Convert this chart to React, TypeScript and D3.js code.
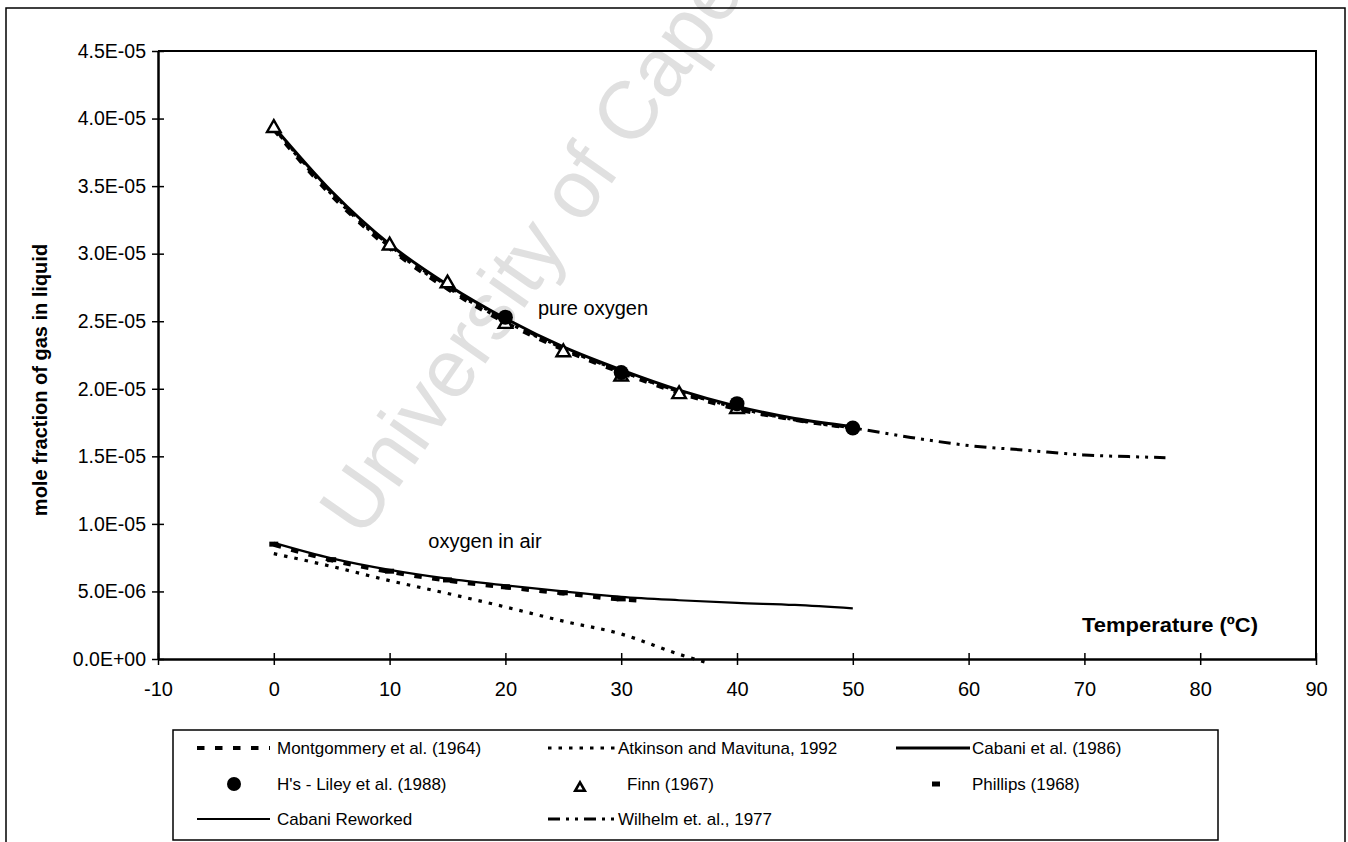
import * as d3 from 'd3'
import { useEffect, useRef } from 'react'

// temperature (ºC) and mole fraction of O2 in water
const pureTemps = [0, 5, 10, 15, 20, 25, 30, 35, 40, 45, 50]
const cabaniPure = [3.94e-5, 3.46e-5, 3.07e-5, 2.77e-5, 2.52e-5, 2.31e-5, 2.14e-5, 1.99e-5, 1.87e-5, 1.78e-5, 1.72e-5]
const montPure = [3.92e-5, 3.43e-5, 3.04e-5, 2.74e-5, 2.49e-5, 2.29e-5, 2.12e-5, 1.97e-5, 1.85e-5, 1.77e-5, 1.71e-5]
const atkinsonPure = [3.93e-5, 3.44e-5, 3.05e-5, 2.75e-5, 2.5e-5, 2.3e-5, 2.13e-5, 1.98e-5, 1.86e-5, 1.77e-5, 1.71e-5]

const wilhelmTemps = [0, 5, 10, 15, 20, 25, 30, 35, 40, 45, 50, 55, 60, 65, 70, 75, 77]
const wilhelmPure = [3.93e-5, 3.45e-5, 3.06e-5, 2.76e-5, 2.51e-5, 2.3e-5, 2.13e-5, 1.98e-5, 1.86e-5, 1.77e-5, 1.71e-5, 1.64e-5, 1.58e-5, 1.545e-5, 1.51e-5, 1.495e-5, 1.49e-5]

const finnTemps = [0, 10, 15, 20, 25, 30, 35, 40]
const finnVals = [3.93e-5, 3.06e-5, 2.78e-5, 2.48e-5, 2.27e-5, 2.09e-5, 1.96e-5, 1.85e-5]

const lileyTemps = [20, 30, 40, 50]
const lileyVals = [2.53e-5, 2.12e-5, 1.89e-5, 1.71e-5]

const airTemps = [0, 5, 10, 15, 20, 25, 30, 35, 40, 45, 50]
const cabaniAir = [8.6e-6, 7.45e-6, 6.6e-6, 5.95e-6, 5.45e-6, 5.0e-6, 4.6e-6, 4.35e-6, 4.15e-6, 4.0e-6, 3.75e-6]

const montAirTemps = [0, 5, 10, 15, 20, 25, 30, 32]
const montAir = [8.45e-6, 7.3e-6, 6.45e-6, 5.8e-6, 5.3e-6, 4.85e-6, 4.4e-6, 4.3e-6]

const phillipsTemps = [0, 5, 10, 15, 20, 25, 30]
const phillipsVals = [8.5e-6, 7.35e-6, 6.5e-6, 5.85e-6, 5.35e-6, 4.9e-6, 4.45e-6]

const atkinsonAirTemps = [0, 5, 10, 15, 20, 25, 30, 35, 37.5]
const atkinsonAir = [7.8e-6, 6.85e-6, 5.8e-6, 4.85e-6, 3.85e-6, 2.8e-6, 1.85e-6, 0.35e-6, -0.3e-6]

const xTicks = [-10, 0, 10, 20, 30, 40, 50, 60, 70, 80, 90]
const yTicks = [0, 5e-6, 1e-5, 1.5e-5, 2e-5, 2.5e-5, 3e-5, 3.5e-5, 4e-5, 4.5e-5]

const legendLabels = [
    'Montgommery et al. (1964)', 'Atkinson and Mavituna, 1992', 'Cabani et al. (1986)',
    "H's - Liley et al. (1988)", 'Finn (1967)', 'Phillips (1968)',
    'Cabani Reworked', 'Wilhelm et. al., 1977'
]

const FONT = '"Liberation Sans", Arial, sans-serif'

function sci(v: number) {
    const [m, e] = v.toExponential(1).split('e')
    const n = Math.abs(parseInt(e))
    return m + 'E' + (e.startsWith('-') ? '-' : '+') + (n < 10 ? '0' + n : '' + n)
}

export default function App() {
    const svgRef = useRef<SVGSVGElement>(null)

    useEffect(() => {
        makeChart(svgRef)
    }, [])

    function makeChart(svgRef: React.RefObject<SVGSVGElement>) {
        const width = 1348
        const height = 842
        const left = 158
        const right = 1316
        const top = 51
        const bottom = 659

        const svg = d3.select(svgRef.current).attr('width', width).attr('height', height)
        svg.selectAll('*').remove()

        const x = d3.scaleLinear().domain([-10, 90]).range([left, right])
        const y = d3.scaleLinear().domain([0, 4.5e-5]).range([bottom, top])

        // scanned watermark
        svg.append('text')
            .attr('transform', 'translate(362,540) rotate(-55)')
            .attr('font-family', FONT).attr('font-size', 82)
            .attr('fill', '#e0e0e0')
            .text('University of Cape Town')

        // outer chart frame
        svg.append('rect').attr('x', 6).attr('y', 8).attr('width', 1339).attr('height', 850)
            .attr('fill', 'none').attr('stroke', '#000').attr('stroke-width', 1.5)

        // plot area top / right border
        svg.append('path').attr('d', `M${left},${top}H${right}V${bottom}`)
            .attr('fill', 'none').attr('stroke', '#000').attr('stroke-width', 2)

        const leftAxis = d3.axisLeft(y).tickValues(yTicks).tickFormat(d => sci(+d)).tickSize(6).tickSizeOuter(0).tickPadding(6)
        svg.append('g').attr('transform', `translate(${left},0)`).call(leftAxis)
            .attr('font-family', FONT).attr('font-size', 19.5)
            .call(g => g.select('.domain').attr('stroke-width', 2.5))
            .call(g => g.selectAll('.tick line').attr('x1', 6).attr('x2', -6).attr('stroke-width', 1.5))

        const bottomAxis = d3.axisBottom(x).tickValues(xTicks).tickFormat(d => String(d)).tickSize(6).tickSizeOuter(0).tickPadding(17)
        svg.append('g').attr('transform', `translate(0,${bottom})`).call(bottomAxis)
            .attr('font-family', FONT).attr('font-size', 20)
            .call(g => g.select('.domain').attr('stroke-width', 2.5))
            .call(g => g.selectAll('.tick line').attr('y1', -6).attr('y2', 6).attr('stroke-width', 1.5))

        const line = d3.line<[number, number]>().x(d => x(d[0])).y(d => y(d[1])).curve(d3.curveMonotoneX)

        const styles = {
            mont: { w: 4, dash: '7.5,10.5' },
            atk: { w: 3.2, dash: '3.5,7' },
            cabani: { w: 3, dash: null },
            reworked: { w: 2.2, dash: null },
            wilhelm: { w: 3, dash: '12,6,3,6,3,6' }
        }

        const drawLine = (xs: number[], ys: number[], st: { w: number, dash: string | null }) => {
            svg.append('path').datum(d3.zip(xs, ys) as [number, number][])
                .attr('d', line).attr('fill', 'none').attr('stroke', '#000')
                .attr('stroke-width', st.w).attr('stroke-dasharray', st.dash)
        }

        drawLine(wilhelmTemps, wilhelmPure, styles.wilhelm)
        drawLine(pureTemps, atkinsonPure, styles.atk)
        drawLine(pureTemps, montPure, styles.mont)
        drawLine(pureTemps, cabaniPure, styles.cabani)

        drawLine(atkinsonAirTemps, atkinsonAir, styles.atk)
        drawLine(montAirTemps, montAir, styles.mont)
        drawLine(airTemps, cabaniAir, styles.reworked)

        const tri = d3.symbol(d3.symbolTriangle, 80)
        svg.append('g').selectAll('path').data(d3.zip(finnTemps, finnVals)).enter().append('path')
            .attr('d', tri).attr('transform', d => `translate(${x(d[0])},${y(d[1])})`)
            .attr('fill', '#fff').attr('stroke', '#000').attr('stroke-width', 2.4)

        svg.append('g').selectAll('circle').data(d3.zip(lileyTemps, lileyVals)).enter().append('circle')
            .attr('cx', d => x(d[0])).attr('cy', d => y(d[1])).attr('r', 7.5).attr('fill', '#000')

        svg.append('g').selectAll('rect').data(d3.zip(phillipsTemps, phillipsVals)).enter().append('rect')
            .attr('x', d => x(d[0]) - 4.5).attr('y', d => y(d[1]) - 2.5).attr('width', 9).attr('height', 5).attr('fill', '#000')

        // annotations and axis titles
        svg.append('text').attr('x', 593).attr('y', 315).attr('text-anchor', 'middle')
            .attr('font-family', FONT).attr('font-size', 20).text('pure oxygen')
        svg.append('text').attr('x', 485).attr('y', 548).attr('text-anchor', 'middle')
            .attr('font-family', FONT).attr('font-size', 20).text('oxygen in air')
        svg.append('text').attr('x', 1170).attr('y', 632).attr('text-anchor', 'middle')
            .attr('font-family', FONT).attr('font-size', 20).attr('font-weight', 'bold')
            .attr('textLength', 176).attr('lengthAdjust', 'spacingAndGlyphs')
            .text('Temperature (\u00baC)')
        svg.append('text').attr('transform', 'translate(47,380) rotate(-90)').attr('text-anchor', 'middle')
            .attr('font-family', FONT).attr('font-size', 20).attr('font-weight', 'bold')
            .text('mole fraction of gas in liquid')

        // legend
        const lg = svg.append('g')
        lg.append('rect').attr('x', 173).attr('y', 730).attr('width', 1045).attr('height', 110)
            .attr('fill', '#fff').attr('stroke', '#000').attr('stroke-width', 1.5)

        const colX = [197, 548, 896]
        const colEnd = [270, 615, 970]
        const textX = [277, 618, 972]
        const rowY = [748, 784, 819]
        const kinds = ['mont', 'atk', 'cabani', 'circle', 'tri', 'rect', 'reworked', 'wilhelm']

        legendLabels.forEach((label, i) => {
            const c = i % 3
            const r = Math.floor(i / 3)
            const cy = rowY[r]
            const k = kinds[i]
            const st = (styles as any)[k]
            if (st) {
                lg.append('line').attr('x1', colX[c]).attr('x2', colEnd[c]).attr('y1', cy).attr('y2', cy)
                    .attr('stroke', '#000').attr('stroke-width', st.w).attr('stroke-dasharray', st.dash)
            } else if (k === 'circle') {
                lg.append('circle').attr('cx', 234).attr('cy', cy).attr('r', 7).attr('fill', '#000')
            } else if (k === 'tri') {
                lg.append('path').attr('d', d3.symbol(d3.symbolTriangle, 40)).attr('transform', `translate(580,${cy + 4})`)
                    .attr('fill', '#fff').attr('stroke', '#000').attr('stroke-width', 2.6)
            } else {
                lg.append('rect').attr('x', 932).attr('y', cy - 2.5).attr('width', 8).attr('height', 5).attr('fill', '#000')
            }
            lg.append('text').attr('x', k === 'tri' ? 627 : textX[c]).attr('y', cy + 6)
                .attr('font-family', FONT).attr('font-size', 17).text(label)
        })
    }

    return (
        <svg ref={svgRef} style={{ position: 'absolute', left: 0, top: 0, display: 'block', background: '#fff' }}></svg>
    )
}
